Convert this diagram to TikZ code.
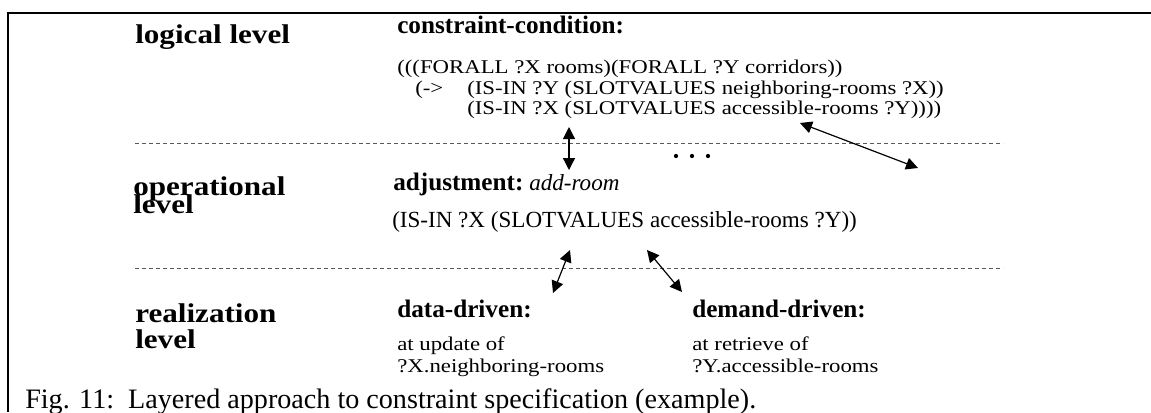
\documentclass[tikz,border=0pt]{standalone}
\usepackage{fontspec}
\setmainfont{Liberation Serif}
\newfontfamily\widefont{Liberation Serif}[FakeStretch=1.17]
\newfontfamily\widebold{Liberation Serif Bold}[FakeStretch=1.15]
\usetikzlibrary{arrows.meta}
\begin{document}
\begin{tikzpicture}[x=0.75pt,y=-0.75pt,
  txt/.style={inner sep=0pt,anchor=base west},
  levelname/.style={txt,font=\widebold\fontsize{20.3}{20.3}\selectfont},
  head/.style={txt,font=\fontsize{18.9}{18.9}\selectfont\bfseries},
  code/.style={txt,font=\widefont\fontsize{14.6}{14.6}\selectfont},
  opcode/.style={txt,font=\fontsize{17.3}{17.3}\selectfont},
  captiontext/.style={txt,font=\fontsize{21.1}{21.1}\selectfont},
  sep/.style={draw=black!65,line width=0.75pt,dash pattern=on 3pt off 2.25pt},
  link/.style={line width=0.9pt,{Triangle[length=9pt,width=9pt]}-{Triangle[length=9pt,width=9pt]}},
  frameline/.style={line width=1.4pt}]
\useasboundingbox (0,0) rectangle (1151,412);

% frame (top and left edges)
\coordinate (fTL) at (8,13);
\coordinate (fTR) at (1151,13);
\coordinate (fBL) at (8,412);
\draw[frameline] (fTR) -- (fTL) -- (fBL);

% logical level
\node[levelname] (logical) at (135,43) {logical level};
\node[head] (cond) at (397,33) {constraint-condition:};
\node[code] (l1) at (397,73) {(((FORALL ?X rooms)(FORALL ?Y corridors))};
\node[code] (l2a) at (415,94) {(->};
\node[code] (l2b) at (467,94) {(IS-IN ?Y (SLOTVALUES neighboring-rooms ?X))};
\node[code] (l3) at (467,114) {(IS-IN ?X (SLOTVALUES accessible-rooms ?Y))))};

% separators
\coordinate (s1a) at (135,143);
\coordinate (s1b) at (1003,143);
\coordinate (s2a) at (135,268);
\coordinate (s2b) at (1003,268);
\draw[sep] (s1a) -- (s1b);
\draw[sep] (s2a) -- (s2b);

% operational level
\node[levelname] (oper) at (133,195) {operational};
\node[levelname] (operlevel) at (133,213) {level};
\node[head] (adj) at (393,190) {adjustment:};
\node[txt,font=\fontsize{17.3}{17.3}\selectfont\itshape,anchor=base west] (addroom) at ([xshift=4pt]adj.base east) {add-room};
\node[opcode] (opline) at (392,227) {(IS-IN ?X (SLOTVALUES accessible-rooms ?Y))};

% realization level
\node[levelname] (real) at (135,322) {realization};
\node[levelname] (reallevel) at (135,348) {level};
\node[head] (data) at (397,317) {data-driven:};
\node[code] (data1) at (397,350) {at update of};
\node[code] (data2) at (397,372) {?X.neighboring-rooms};
\node[head] (demand) at (692,317) {demand-driven:};
\node[code] (demand1) at (692,350) {at retrieve of};
\node[code] (demand2) at (692,372) {?Y.accessible-rooms};

% ellipsis
\foreach \x in {676,692,708} \fill (\x,156) circle (1.6pt);

% links between levels
\coordinate (a1t) at (569,127);
\coordinate (a1b) at (569,170);
\coordinate (a2t) at (800,123);
\coordinate (a2b) at (918,168);
\coordinate (a3t) at (570,250);
\coordinate (a3b) at (553,293);
\coordinate (a4t) at (647,250);
\coordinate (a4b) at (682,292);
\draw[link] (a1t) -- (a1b);
\draw[link] (a2t) -- (a2b);
\draw[link] (a3t) -- (a3b);
\draw[link] (a4t) -- (a4b);

% caption
\node[captiontext] (caption) at (25,408) {Fig. 11:\ \ Layered approach to constraint specification (example).};
\end{tikzpicture}
\end{document}
